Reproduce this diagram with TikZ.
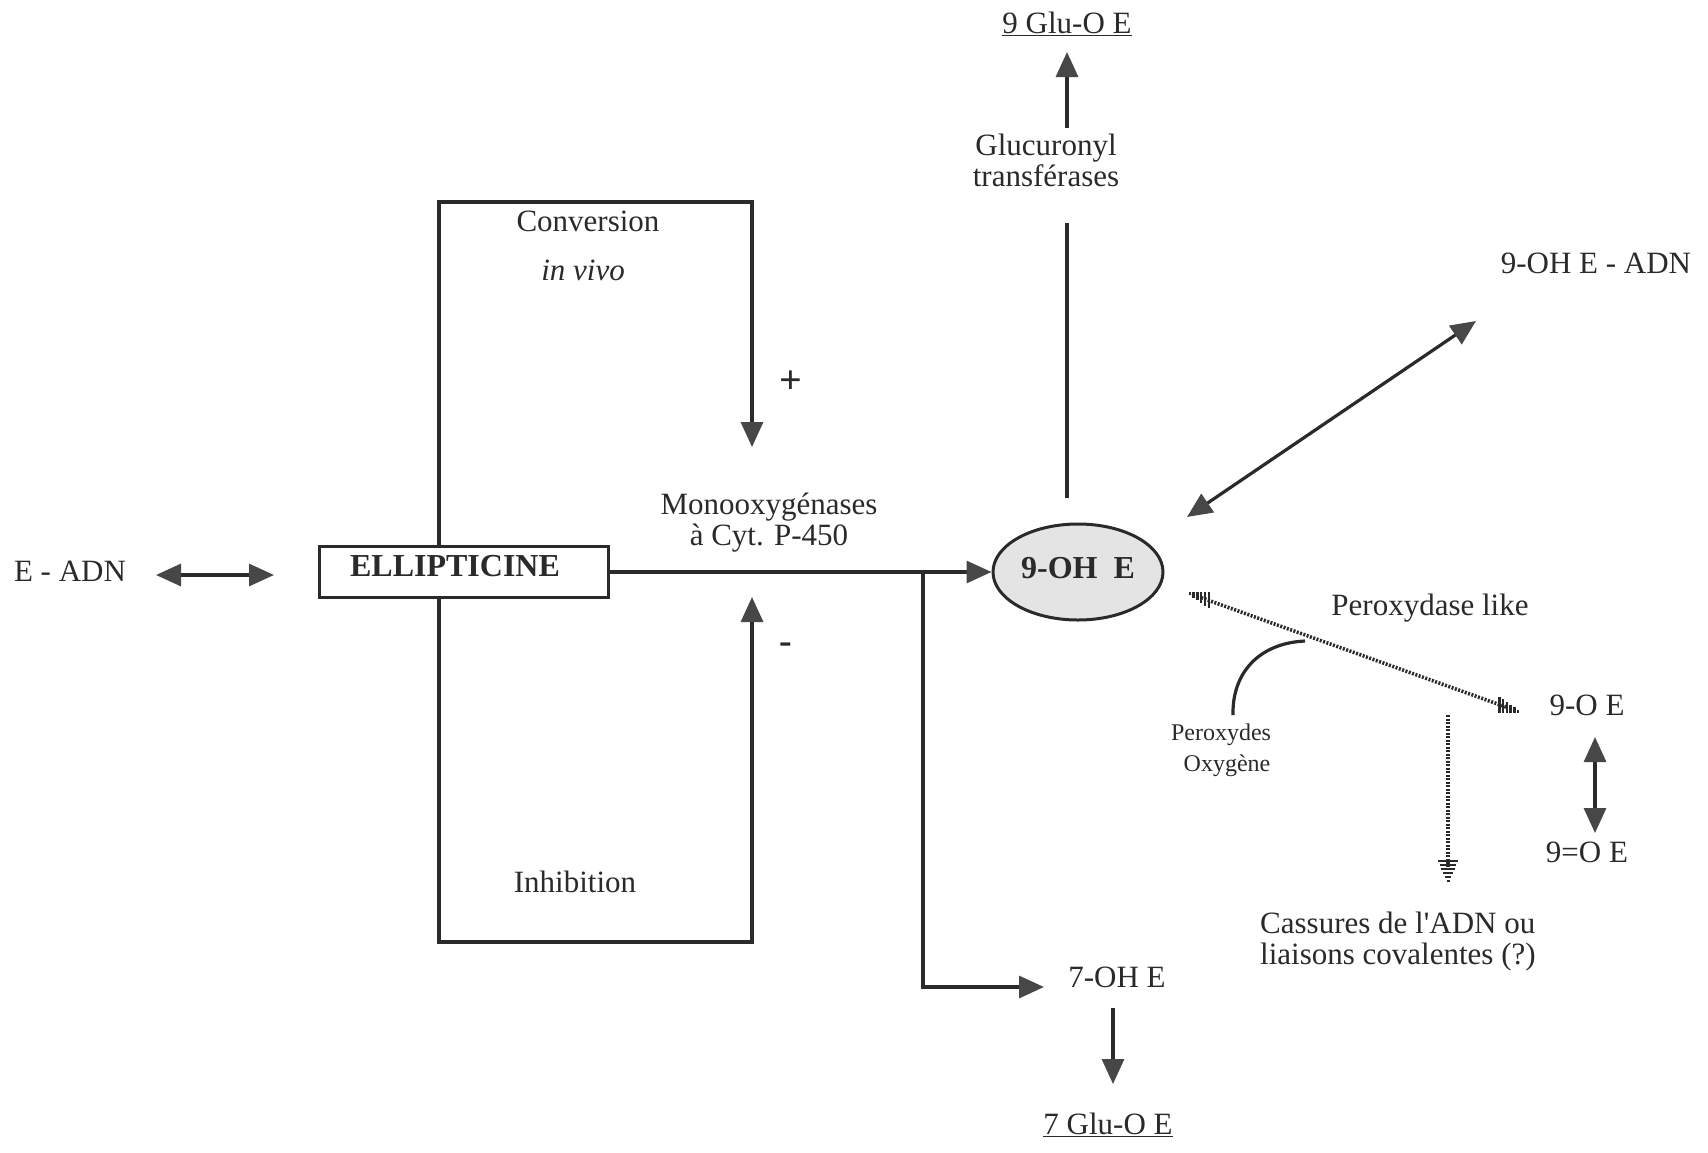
\documentclass[tikz,border=0pt]{standalone}
\usepackage{fontspec}
\setmainfont{Liberation Serif}
\usetikzlibrary{arrows.meta,calc,shapes.geometric}
\definecolor{ink}{HTML}{2A2A2A}
\definecolor{headc}{HTML}{474747}
\definecolor{ovalfill}{HTML}{E4E4E4}
\tikzset{
  txt/.style={font=\fontsize{31}{32}\selectfont, text=ink, inner sep=0pt, align=center},
  small/.style={font=\fontsize{24}{31}\selectfont, text=ink, inner sep=0pt, align=center},
  ln/.style={draw=ink, line width=3.2pt},
  tip/.tip={Triangle[length=25pt,width=22pt,color=headc,fill=headc]},
  arr/.style={ln, -tip},
  darr/.style={ln, tip-tip},
  dotln/.style={draw=ink, line width=3.6pt, dash pattern=on 2pt off 1.5pt},
  stripe/.style={draw=ink, line width=2.4pt},
}
\begin{document}
\begin{tikzpicture}[x=1pt,y=-1pt]
\useasboundingbox (0,0) rectangle (1708,1152);

% main nodes
\node[draw=ink, line width=3pt, minimum width=289pt, minimum height=51pt, inner sep=0pt] (ell) at (463.5,572) {};
\node[txt, font=\fontsize{32}{34}\selectfont\bfseries] (elltxt) at (455,566) {ELLIPTICINE};
\node[ellipse, draw=ink, line width=3pt, fill=ovalfill, minimum width=170pt, minimum height=96pt, inner sep=0pt] (ohe) at (1078,572) {};
\node[txt, font=\fontsize{32}{34}\selectfont\bfseries] (ohetxt) at (1078,568) {9-OH\ \ E};

% labels
\node[txt] (eadn) at (70,571) {E - ADN};
\node[txt] (conv) at (588,221) {Conversion};
\node[txt, font=\fontsize{31}{32}\selectfont\itshape] (invivo) at (583,270) {in vivo};
\node[txt, font=\fontsize{40}{40}\selectfont\bfseries] (plus) at (791,382) {+};
\node[txt, font=\fontsize{38}{38}\selectfont\bfseries] (minus) at (786,648) {-};
\node[txt] (inhib) at (575,882) {Inhibition};
\node[txt, font=\fontsize{31}{31}\selectfont] (mono) at (769,523) {Monooxygénases\\à Cyt. P-450};
\node[txt] (glu9) at (1067,24) {\underline{9 Glu-O E}};
\node[txt, font=\fontsize{31}{31}\selectfont] (gluc) at (1046,160) {Glucuronyl\\transférases};
\node[txt] (ohadn) at (1596,263) {9-OH E - ADN};
\node[txt] (perlike) at (1430,608) {Peroxydase like};
\node[small] (perox) at (1221,750) {Peroxydes\\\ \ Oxygène};
\node[txt] (noe) at (1587,705) {9-O E};
\node[txt] (dnoe) at (1587,852) {9=O E};
\node[txt, anchor=west, align=left, font=\fontsize{31}{31}\selectfont] (cass) at (1260,942) {Cassures de l\textquotesingle ADN ou\\liaisons covalentes (?)};
\node[txt] (oh7) at (1117,977) {7-OH E};
\node[txt] (glu7) at (1108,1125) {\underline{7 Glu-O E}};

% coordinates
\coordinate (eaL) at (156,575);
\coordinate (eaR) at (274,575);
\coordinate (cvA) at (439,546.5);
\coordinate (cvB) at (752,202);
\coordinate (cvC) at (752,447);
\coordinate (inA) at (439,597.5);
\coordinate (inB) at (752,942);
\coordinate (inC) at (752,597);
\coordinate (br) at (923,572);
\coordinate (oh7in) at (1044,987);
\coordinate (g7a) at (1113,1008);
\coordinate (g7b) at (1113,1084);
\coordinate (g9a) at (1067,128);
\coordinate (g9b) at (1067,52);
\coordinate (vA) at (1067,223);
\coordinate (vB) at (1067,498);
\coordinate (dA) at (1476,321);
\coordinate (dB) at (1187,517);
\coordinate (pdA) at (1188,593);
\coordinate (pdB) at (1520,712);
\coordinate (pxA) at (1233,715);
\coordinate (pxB) at (1305,641);
\coordinate (vdA) at (1448,715);
\coordinate (vdB) at (1448,883);
\coordinate (oxA) at (1595,737);
\coordinate (oxB) at (1595,833);

% connectors
\draw[darr] (eaL) -- (eaR);
\draw[arr] (cvA) |- (cvB) -- (cvC);
\draw[arr] (inA) |- (inB) -- (inC);
\draw[arr] (ell.east |- ohe.west) -- (ohe.west);
\draw[arr] (br) |- (oh7in);
\draw[arr] (g7a) -- (g7b);
\draw[arr] (g9a) -- (g9b);
\draw[ln] (vA) -- (vB);
\draw[darr] (dA) -- (dB);
\draw[darr] (oxA) -- (oxB);

% peroxydase dotted double arrow with striped heads
\draw[dotln] ($(pdA)!14pt!(pdB)$) -- ($(pdB)!14pt!(pdA)$);
\foreach \d/\h in {2pt/1.5,6pt/2.8,10pt/4.1,14pt/5.4,18pt/6.7,22pt/8}{
  \draw[stripe] ($(pdA)!\d!(pdB)$) ++(0,-\h) -- ++(0,2*\h);
  \draw[stripe] ($(pdB)!\d!(pdA)$) ++(0,-\h) -- ++(0,2*\h);
}
\draw[ln] (pxA) .. controls (1232,672) and (1260,643) .. (pxB);

% vertical dotted arrow with striped head
\draw[dotln] (vdA) -- ($(vdB)+(0,-16)$);
\foreach \d/\w in {2/1.5,6/3.2,10/4.9,14/6.6,18/8.3,22/10}{
  \draw[stripe] ($(vdB)+(-\w,-\d)$) -- ++(2*\w,0);
}
\end{tikzpicture}
\end{document}
